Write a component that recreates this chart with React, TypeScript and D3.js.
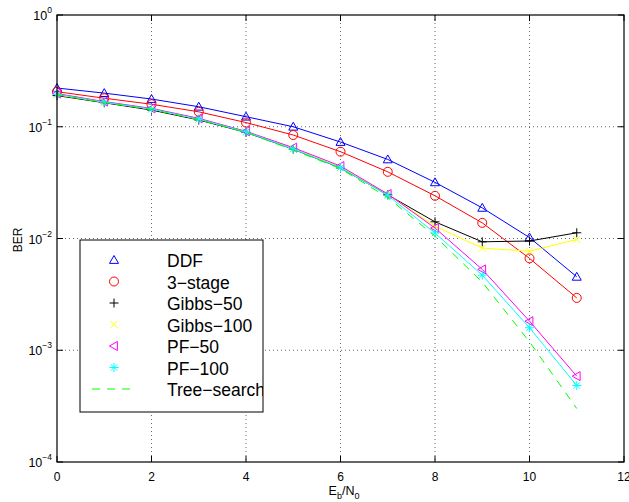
import React from "react";
import * as d3 from "d3";

const snr = [0, 1, 2, 3, 4, 5, 6, 7, 8, 9, 10, 11];
const ddf = [0.222, 0.2, 0.177, 0.151, 0.123, 0.1, 0.073, 0.051, 0.0318, 0.0188, 0.0102, 0.00454];
const threeStage = [0.206, 0.18, 0.159, 0.136, 0.109, 0.0843, 0.0598, 0.0395, 0.0241, 0.0138, 0.00664, 0.00294];
const gibbs50 = [0.19, 0.164, 0.141, 0.115, 0.089, 0.063, 0.0428, 0.0246, 0.0141, 0.00934, 0.0095, 0.01125];
const gibbs100 = [0.193, 0.166, 0.144, 0.117, 0.09, 0.064, 0.0435, 0.0248, 0.0129, 0.0082, 0.0077, 0.0098];
const pf50 = [0.198, 0.168, 0.146, 0.119, 0.091, 0.065, 0.0445, 0.025, 0.0124, 0.00529, 0.00182, 0.000586];
const pf100 = [0.195, 0.166, 0.144, 0.117, 0.09, 0.063, 0.043, 0.0243, 0.0112, 0.0047, 0.00159, 0.000484];
const treeSearch = [0.194, 0.165, 0.143, 0.116, 0.089, 0.062, 0.0422, 0.0232, 0.0105, 0.00407, 0.00119, 0.000301];

const xTicks = [0, 2, 4, 6, 8, 10, 12];
const yTicks = [1, 0.1, 0.01, 0.001, 0.0001];
const yExp = ["0", "-1", "-2", "-3", "-4"];

type Marker = "tri" | "circle" | "plus" | "x" | "left" | "star" | "none";
interface Series { name: string; values: number[]; color: string; marker: Marker; dash?: string }

const series: Series[] = [
  { name: "DDF", values: ddf, color: "#0000ff", marker: "tri" },
  { name: "3\u2212stage", values: threeStage, color: "#ff0000", marker: "circle" },
  { name: "Gibbs\u221250", values: gibbs50, color: "#000000", marker: "plus" },
  { name: "Gibbs\u2212100", values: gibbs100, color: "#ffff00", marker: "x" },
  { name: "PF\u221250", values: pf50, color: "#ff00ff", marker: "left" },
  { name: "PF\u2212100", values: pf100, color: "#00ffff", marker: "star" },
  { name: "Tree\u2212search", values: treeSearch, color: "#00ff00", marker: "none", dash: "8,7" },
];

const L = 57, R = 624, T = 15, B = 462;
const font = "'Liberation Sans', Arial, Helvetica, sans-serif";

function MarkerShape({ m, x, y, c }: { m: Marker; x: number; y: number; c: string }) {
  const s = 4.5;
  switch (m) {
    case "tri":
      return <path d={`M${x},${y - s}L${x + s},${y + s * 0.75}L${x - s},${y + s * 0.75}Z`} fill="none" stroke={c} strokeWidth={1} />;
    case "left":
      return <path d={`M${x - s},${y}L${x + s * 0.75},${y - s}L${x + s * 0.75},${y + s}Z`} fill="none" stroke={c} strokeWidth={1} />;
    case "circle":
      return <circle cx={x} cy={y} r={4.5} fill="none" stroke={c} strokeWidth={1} />;
    case "plus":
      return <path d={`M${x - s},${y}H${x + s}M${x},${y - s}V${y + s}`} stroke={c} strokeWidth={1} />;
    case "x": {
      const k = 3.5;
      return <path d={`M${x - k},${y - k}L${x + k},${y + k}M${x - k},${y + k}L${x + k},${y - k}`} stroke={c} strokeWidth={1} />;
    }
    case "star": {
      const k = 3.2;
      return <path d={`M${x - s},${y}H${x + s}M${x},${y - s}V${y + s}M${x - k},${y - k}L${x + k},${y + k}M${x - k},${y + k}L${x + k},${y - k}`} stroke={c} strokeWidth={1} />;
    }
    default:
      return null;
  }
}

export default function App() {
  const x = d3.scaleLinear().domain([0, 12]).range([L, R]);
  const y = d3.scaleLog().domain([1e-4, 1]).range([B, T]);
  const line = d3.line<number>().x((_, i) => x(snr[i])).y((d) => y(d));

  const legX = 80, legY = 240, legW = 183, legH = 172;
  const rowY0 = 260, rowH = 21.5;

  return (
    <svg width={629} height={502} style={{ position: "absolute", left: 0, top: 0 }} fontFamily={font}>
      <defs>
        <clipPath id="legclip">
          <rect x={legX} y={legY} width={legW} height={legH} />
        </clipPath>
      </defs>
      <rect x={0} y={0} width={629} height={502} fill="#fff" />
      {/* grid */}
      {xTicks.filter((t) => t > 0 && t < 12).map((t) => (
        <line key={"gx" + t} x1={x(t)} x2={x(t)} y1={T} y2={B} stroke="#444" strokeWidth={0.8} strokeDasharray="1,3" />
      ))}
      {yTicks.filter((t) => t < 1 && t > 1e-4).map((t) => (
        <line key={"gy" + t} x1={L} x2={R} y1={y(t)} y2={y(t)} stroke="#444" strokeWidth={0.8} strokeDasharray="1,3" />
      ))}
      {/* ticks */}
      {xTicks.map((t) => (
        <g key={"tx" + t}>
          <line x1={x(t)} x2={x(t)} y1={B} y2={B - 6} stroke="#000" />
          <line x1={x(t)} x2={x(t)} y1={T} y2={T + 6} stroke="#000" />
          <text x={x(t)} y={481} fontSize={12} textAnchor="middle">{t}</text>
        </g>
      ))}
      {yTicks.map((t, i) => (
        <g key={"ty" + t}>
          <line x1={L} x2={L + 6} y1={y(t)} y2={y(t)} stroke="#000" />
          <line x1={R} x2={R - 6} y1={y(t)} y2={y(t)} stroke="#000" />
          <text x={52} y={y(t) + 5} fontSize={12.5} textAnchor="end">
            10<tspan dy={-7} fontSize={8.5}>{yExp[i].replace("-", "\u2212")}</tspan>
          </text>
        </g>
      ))}
      {/* series */}
      {series.map((s) => (
        <g key={s.name}>
          <path d={line(s.values) || ""} fill="none" stroke={s.color} strokeWidth={1} strokeDasharray={s.dash} />
          {s.values.map((v, i) => (
            <MarkerShape key={i} m={s.marker} x={x(snr[i])} y={y(v)} c={s.color} />
          ))}
        </g>
      ))}
      {/* axes box */}
      <rect x={L} y={T} width={R - L} height={B - T} fill="none" stroke="#000" strokeWidth={1.2} />
      {/* labels */}
      <text x={344} y={495} fontSize={12.5} textAnchor="middle">
        E<tspan dy={4} fontSize={9}>b</tspan><tspan dy={-4}>/N</tspan><tspan dy={4} fontSize={9}>0</tspan>
      </text>
      <text transform="translate(22,240) rotate(-90)" fontSize={12} textAnchor="middle">BER</text>
      {/* legend */}
      <rect x={legX} y={legY} width={legW} height={legH} fill="#fff" stroke="none" />
      <g clipPath="url(#legclip)">
        {series.map((s, i) => {
          const ry = rowY0 + i * rowH;
          return (
            <g key={"leg" + s.name}>
              {s.marker === "none" ? (
                <line x1={92} x2={130} y1={ry} y2={ry} stroke={s.color} strokeWidth={1} strokeDasharray={s.dash} />
              ) : (
                <MarkerShape m={s.marker} x={114} y={ry} c={s.color} />
              )}
              <text x={167} y={ry + 7} fontSize={17.5}>{s.name}</text>
            </g>
          );
        })}
      </g>
      <rect x={legX} y={legY} width={legW} height={legH} fill="none" stroke="#000" strokeWidth={1} />
    </svg>
  );
}
